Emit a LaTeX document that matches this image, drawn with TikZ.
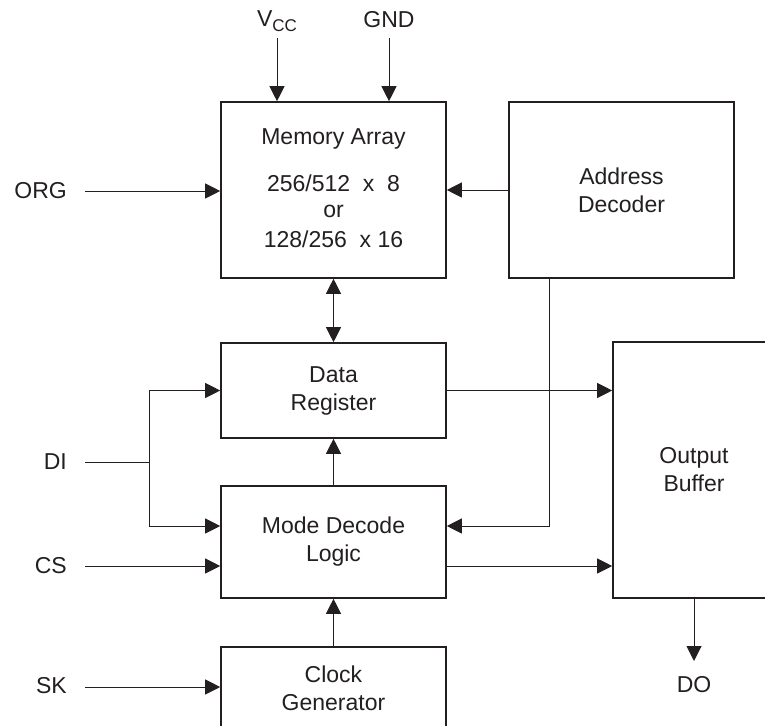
\documentclass[tikz,border=0pt]{standalone}
\usepackage{fontspec}
\setmainfont{Liberation Sans}
\usetikzlibrary{arrows.meta}
\definecolor{ink}{HTML}{231F20}
\begin{document}
\begin{tikzpicture}[x=1pt,y=-1pt,
  every node/.style={font=\fontsize{23}{28}\selectfont, text=ink},
  blockbox/.style={draw=ink, line width=1.6pt, rectangle, inner sep=0pt, align=center},
  txt/.style={inner sep=0pt, align=center},
  lbl/.style={inner sep=0pt, anchor=east},
  wire/.style={draw=ink, line width=1pt},
  arr/.style={wire, -{Triangle[length=15pt,width=15pt]}},
  darr/.style={wire, {Triangle[length=15pt,width=15pt]}-{Triangle[length=15pt,width=15pt]}}]
\useasboundingbox (0,0) rectangle (765,725);
\fill[white] (0,0) rectangle (765,725);
\clip (0,0) rectangle (765,725);
% blocks
\node[blockbox, minimum width=225pt, minimum height=176pt] (mem) at (333.5,190) {};
\node[txt] (memt1) at (333.5,139) {Memory Array};
\node[txt] (memt2) at (333.5,183) {256/512\ \ x\ \ 8};
\node[txt] (memt3) at (333.5,211) {or};
\node[txt] (memt4) at (333.5,239) {128/256\ \ x 16};
\node[blockbox, minimum width=225pt, minimum height=176pt] (addr) at (621.5,190) {Address\\Decoder};
\node[blockbox, minimum width=225pt, minimum height=95pt] (data) at (333.5,390.5) {Data\\Register};
\node[blockbox, minimum width=225pt, minimum height=112pt] (mode) at (333.5,542) {Mode Decode\\Logic};
\node[blockbox, minimum width=225pt, minimum height=82pt] (clk) at (333.5,688) {Clock\\Generator};
\node[blockbox, minimum width=162pt, minimum height=256pt] (ob) at (694,470) {Output\\Buffer};
% labels
\node[txt, anchor=base] (vcc) at (277,27) {V\raisebox{-5pt}{\fontsize{17}{17}\selectfont CC}};
\node[txt, anchor=base] (gnd) at (389,28) {GND};
\node[lbl] (org) at (67,191) {ORG};
\node[lbl] (di) at (67,462) {DI};
\node[lbl] (cs) at (67,566) {CS};
\node[lbl] (sk) at (67,686) {SK};
\node[txt] (do) at (694,685) {DO};
% coordinates
\coordinate (vccS) at (277,38);
\coordinate (gndS) at (389,38);
\coordinate (orgS) at (85,191);
\coordinate (diS) at (85,462);
\coordinate (diB) at (149,462);
\coordinate (csS) at (85,566);
\coordinate (skS) at (85,687);
\coordinate (adrB) at (549,278);
\coordinate (doE) at (694,661);
% connectors
\draw[arr] (vccS) -- (vccS |- mem.north);
\draw[arr] (gndS) -- (gndS |- mem.north);
\draw[arr] (orgS) -- (orgS -| mem.west);
\draw[arr] (addr.west) -- (mem.east);
\draw[darr] (mem.south) -- (data.north);
\draw[wire] (diS) -- (diB);
\draw[arr] (diB) |- (data.west);
\draw[arr] (diB) |- ([yshift=16pt]mode.west);
\draw[arr] (csS) -- (csS -| mode.west);
\draw[arr] (skS) -- (skS -| clk.west);
\draw[arr] (mode.north) -- (data.south);
\draw[arr] (clk.north) -- (mode.south);
\draw[arr] (adrB) |- ([yshift=16pt]mode.east);
\draw[arr] (data.east) -- (data.east -| ob.west);
\draw[arr] ([yshift=-24pt]mode.east) -- ([yshift=-24pt]mode.east -| ob.west);
\draw[arr] (ob.south) -- (doE);
\end{tikzpicture}
\end{document}
